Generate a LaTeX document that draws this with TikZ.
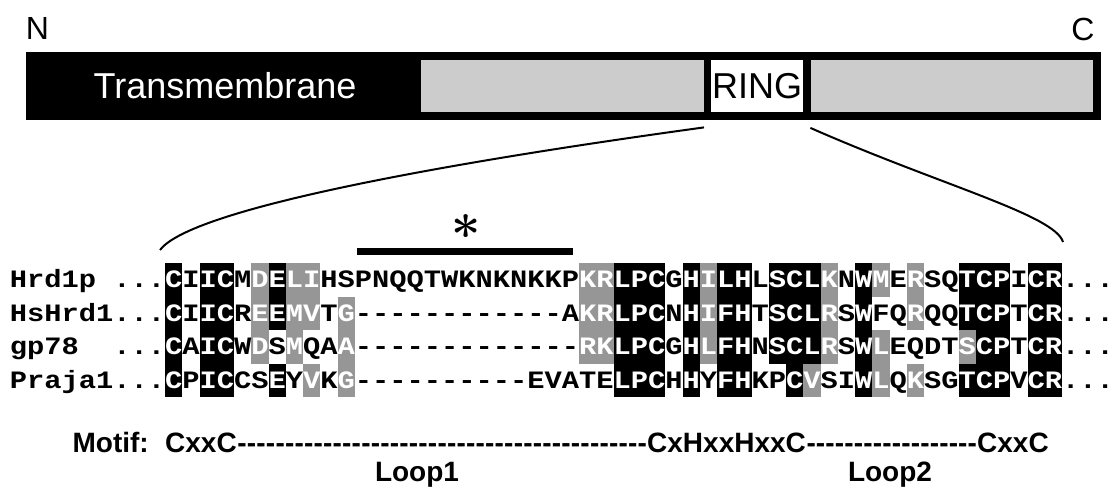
\documentclass[tikz,border=0pt]{standalone}
\usepackage{fontspec}
\usetikzlibrary{calc}
\newfontfamily\seqfont{Liberation Mono}[FakeStretch=1.15]
\newfontfamily\arialfont{Liberation Sans}
\definecolor{shadegray}{RGB}{150,150,150}
\definecolor{domaingray}{RGB}{204,204,204}

% --- alignment machinery: one cell per residue, shade code b/g/n ---
\newcount\cidx
\newif\ifseqtext
\def\rowid{r}\def\rowtop{0}\def\rowbase{0}
\newcommand\seqcell[2]{%
  \pgfmathsetmacro\cx{165+17.25*\cidx}%
  \ifseqtext
    \if#2n\def\tc{black}\else\def\tc{white}\fi
    \node[seqchar,text=\tc] (\rowid-\the\cidx) at (\cx+8.625,\rowbase) {#1};%
  \else
    \if#2b\fill[black] (\cx,\rowtop) rectangle ++(17.4,33.7);\fi
    \if#2g\fill[shadegray] (\cx,\rowtop) rectangle ++(17.4,33.7);\fi
  \fi}
\def\seqrun#1#2\relax#3#4\relax{%
  \seqcell{#1}{#3}%
  \global\advance\cidx by 1\relax
  \if\relax\detokenize{#2}\relax\else\seqrun#2\relax#4\relax\fi}
\newcommand\alignrow[5]{\def\rowid{#1}\def\rowtop{#2}\def\rowbase{#3}%
  \global\cidx=0\relax\seqrun#4\relax#5\relax}
\newcommand\allrows{%
  \alignrow{hrd}{263}{287.5}%
    {CIICMDELIHSPNQQTWKNKNKKPKRLPCGHILHLSCLKNWMERSQTCPICR}%
    {bnbbngbggnnnnnnnnnnnnnnnggbbbnbgbbnbbbgnbgngnnbbbnbb}%
  \alignrow{hs}{296.5}{321}%
    {CIICREEMVTG------------AKRLPCNHIFHTSCLRSWFQRQQTCPTCR}%
    {bnbbngbggngnnnnnnnnnnnnnggbbbnbgbbnbbbgnbnngnnbbbnbb}%
  \alignrow{gp}{330}{354.5}%
    {CAICWDSMQAA-------------RKLPCGHLFHNSCLRSWLEQDTSCPTCR}%
    {bnbbngngnngnnnnnnnnnnnnnggbbbnbgbbnbbbgnbgnnnngbbnbb}%
  \alignrow{pr}{363.5}{388}%
    {CPICCSEYVKG----------EVATELPCHHYFHKPCVSIWLQKSGTCPVCR}%
    {bnbbnnbngngnnnnnnnnnnnnnnnbbbnbnbbnnbgnnbgngnnbbbnbb}}

\begin{document}
\begin{tikzpicture}[x=1pt,y=-1pt,
  seqchar/.style={font={\fontsize{25}{25}\selectfont\seqfont\bfseries},inner sep=0pt,anchor=base},
  seqlabel/.style={font={\fontsize{25}{25}\selectfont\seqfont\bfseries},inner sep=0pt,anchor=base west},
  domainbox/.style={inner sep=0pt,anchor=north west,minimum height=52},
  bigsans/.style={font={\fontsize{36}{36}\selectfont\arialfont}},
  endlabel/.style={font={\fontsize{32}{32}\selectfont\arialfont}},
  motif/.style={font={\fontsize{28}{28}\selectfont\arialfont\bfseries},inner sep=0pt},
  connector/.style={line width=2pt}]
\useasboundingbox (0,0) rectangle (1116,491);

% protein domain bar
\node[endlabel] (nterm) at (37.5,28) {N};
\node[endlabel] (cterm) at (1083,29) {C};
\node[fill=black,inner sep=0pt,anchor=north west,minimum width=1075,minimum height=68] (bar) at (26,52) {};
\node[domainbox,fill=domaingray,minimum width=283] (leftdom) at (421,60) {};
\node[domainbox,fill=white,minimum width=92,bigsans] (ring) at (711,60) {RING};
\node[domainbox,fill=domaingray,minimum width=282] (rightdom) at (811,60) {};
\node[bigsans,text=white] (tm) at (225,86) {Transmembrane};

% zoom-in connectors from the RING domain to the alignment
\coordinate (ringL) at ([shift={(-7,15)}]ring.south west);
\coordinate (ringR) at ([shift={(7,15.5)}]ring.south east);
\coordinate (alnL) at (160,250);
\coordinate (alnR) at (1063,242);
\draw[connector] (ringL) .. controls (430,165) and (190,210) .. (alnL);
\draw[connector] (ringR) .. controls (940,185) and (1055,215) .. (alnR);

% insertion marker
\node[fill=black,inner sep=0pt,anchor=north west,minimum width=216,minimum height=7] (loopbar) at (357,248) {};
\node[anchor=base,inner sep=0pt] (star) at (466.5,253) {\fontsize{52}{52}\selectfont\bfseries *};

% sequence alignment: shading first, then residues
\seqtextfalse\allrows
\seqtexttrue\allrows

\node[seqlabel] (lab1) at (9.75,287.5) {Hrd1p};
\node[seqlabel] (lab2) at (9.75,321) {HsHrd1};
\node[seqlabel] (lab3) at (9.75,354.5) {gp78};
\node[seqlabel] (lab4) at (9.75,388) {Praja1};
\foreach \yy/\nm in {287.5/1,321/2,354.5/3,388/4}{
  \node[seqlabel] (pre\nm) at (113.25,\yy) {...};
  \node[seqlabel] (post\nm) at (1062,\yy) {...};
}

% motif line
\node[motif,anchor=base east] (motiflabel) at (149,452) {Motif:};
\node[motif,anchor=base west] (m1) at (165,452) {CxxC};
\node[motif,anchor=base west] (m2) at (647,452) {CxHxxHxxC};
\node[motif,anchor=base west] (m3) at (977,452) {CxxC};
\path let \p1=(m1.base east), \p2=(m2.base west) in
  node[motif,anchor=base west] (d1) at (\p1) {\hbox to \dimexpr\x2-\x1\relax{\xleaders\hbox{-}\hfill}};
\path let \p1=(m2.base east), \p2=(m3.base west) in
  node[motif,anchor=base west] (d2) at (\p1) {\hbox to \dimexpr\x2-\x1\relax{\xleaders\hbox{-}\hfill}};
\node[motif,anchor=base] (loop1) at (417,481) {Loop1};
\node[motif,anchor=base] (loop2) at (890,481) {Loop2};
\end{tikzpicture}
\end{document}
